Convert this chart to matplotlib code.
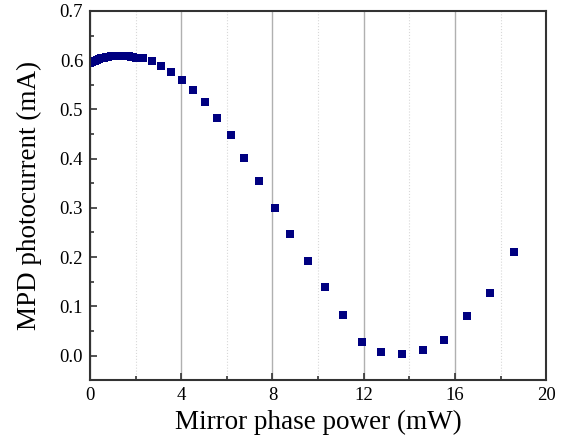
import numpy as np
import matplotlib.pyplot as plt
from matplotlib.ticker import MultipleLocator

# mirror phase power (mW) and monitor photodiode current (mA)
power = [0.0, 0.1, 0.2, 0.3, 0.4, 0.5, 0.6, 0.7, 0.8, 0.9, 1.0,
         1.1, 1.2, 1.3, 1.4, 1.5, 1.6, 1.7, 1.8, 1.9, 2.0,
         2.34, 2.70, 3.11, 3.54, 4.04, 4.52, 5.04, 5.58, 6.18, 6.77,
         7.43, 8.10, 8.77, 9.55, 10.30, 11.10, 11.92, 12.78, 13.68,
         14.59, 15.54, 16.55, 17.56, 18.61]
current = [0.594, 0.597, 0.599, 0.601, 0.602, 0.604, 0.605, 0.606, 0.607, 0.608, 0.608,
           0.609, 0.609, 0.609, 0.609, 0.609, 0.608, 0.608, 0.607, 0.606, 0.605,
           0.604, 0.599, 0.588, 0.577, 0.559, 0.539, 0.516, 0.482, 0.448, 0.402,
           0.355, 0.299, 0.246, 0.193, 0.140, 0.082, 0.027, 0.008, 0.003,
           0.012, 0.032, 0.080, 0.128, 0.210]

plt.rcParams['font.family'] = ['Liberation Serif', 'DejaVu Serif']

fig = plt.figure(figsize=(5.63, 4.38), dpi=100)
axes = fig.add_axes([0.160, 0.132, 0.810, 0.843])

axes.plot(power, current, linestyle='none', marker='s', markersize=5.5,
          color='#000080', markeredgewidth=0)

axes.set_xlim(0, 20)
axes.set_ylim(-0.05, 0.7)
axes.xaxis.set_major_locator(MultipleLocator(4))
axes.xaxis.set_minor_locator(MultipleLocator(2))
axes.yaxis.set_major_locator(MultipleLocator(0.1))
axes.yaxis.set_minor_locator(MultipleLocator(0.05))
axes.yaxis.set_major_formatter(plt.FormatStrFormatter('%.1f'))

axes.grid(which='major', axis='x', color='#b0b0b0', linewidth=1.0)
axes.grid(which='minor', axis='x', color='#d8d8d8', linewidth=0.8, linestyle=':')
axes.set_axisbelow(True)

axes.tick_params(which='both', direction='in', top=False, right=False,
                 labelsize=13.5, color='#333333', width=1.2)
axes.tick_params(which='major', length=5, pad=5)
axes.tick_params(which='minor', length=3)
for s in axes.spines.values():
    s.set_linewidth(1.5)
    s.set_color('#333333')

axes.set_xlabel("Mirror phase power (mW)", fontsize=19.5, labelpad=4)
axes.set_ylabel("MPD photocurrent (mA)", fontsize=19.5, labelpad=13)

fig.savefig('out.png', dpi=100)
